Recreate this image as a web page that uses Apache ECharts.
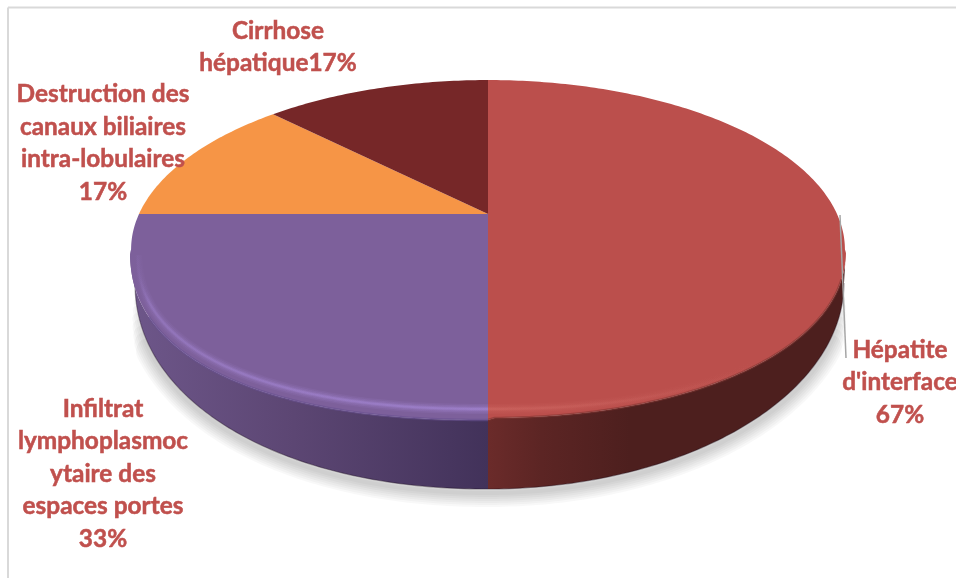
<!DOCTYPE html>
<html>
<head>
<meta charset="utf-8">
<style>html,body{margin:0;padding:0;background:#fff;overflow:hidden}#c{width:956px;height:578px}</style>
<script src="https://cdn.jsdelivr.net/npm/echarts@6/dist/echarts.min.js"></script>
</head>
<body>
<div id="c"></div>
<script>
// Data
const categories = ["Hépatite d'interface", "Infiltrat lymphoplasmocytaire des espaces portes", "Destruction des canaux biliaires intra-lobulaires", "Cirrhose hépatique"];
const values = [4, 2, 1, 1];
const labelTexts = ["Hépatite\nd'interface\n67%", "Infiltrat\nlymphoplasmoc\nytaire des\nespaces portes\n33%", "Destruction des\ncanaux biliaires\nintra-lobulaires\n17%", "Cirrhose\nhépatique17%"];

// Styling
const topColors = ['#BB4F4C', '#7D609B', '#F69546', '#762728'];
const labelAnchors = [[900, 382.5], [103, 474], [103, 143], [278, 47]];
const wallStops = [
  {x: 488, x2: 844, stops: [[0, '#6b2b2a'], [0.15, '#5c2524'], [0.4, '#4d1f1e'], [1, '#4d1f1e']]},
  {x: 135, x2: 488, stops: [[0, '#6d5689'], [0.45, '#5c4673'], [1, '#42325a']]},
  null, null
];
// soft layers of the bevel highlight: [line width, alpha factor]
const rimLayers = [[10, 0.12], [7, 0.18], [4, 0.28], [2, 0.4]];
const rimStops = [
  {x: 488, x2: 760, rgb: '208,105,100', stops: [[0, 0.9], [0.6, 0.35], [1, 0]]},
  {x: 135, x2: 488, rgb: '168,138,218', stops: [[0, 0], [0.04, 0.55], [0.35, 0.8], [1, 1]]},
  null, null
];
// soft ground shadow: stacked translucent strokes [line width, trim]
const shadowLayers = [[28, 0.30], [24, 0.26], [20, 0.22], [16, 0.18], [12, 0.14], [8, 0.10], [4, 0.06]];

// Geometry of the tilted disc
const CX = 488, CY = 214, R = 349, S = 162, K = 0.2094;
const TV = Math.acos(-K);            // angle from 12 o'clock where the wall appears
const total = values.reduce((a, b) => a + b, 0);

function phiOf(t) {                  // front arc angle -> 0 (right) .. PI (left)
  return (t - TV) / (2 * Math.PI - 2 * TV) * Math.PI;
}
function superPt(phi, a, b, y0, p) {
  const c = Math.cos(phi), s = Math.max(0, Math.sin(phi));
  return [CX + a * Math.sign(c) * Math.pow(Math.abs(c), 2 / p), y0 + b * Math.pow(s, 2 / p)];
}
function edgeFront(phi) {            // top of the wall
  return phi < Math.PI / 2 ? superPt(phi, 358, 168, 250, 2.1) : superPt(phi, 358, 170, 250, 2.3);
}
function topEdge(t) {                // outline of the upper face at clock angle t
  if (t > TV && t < 2 * Math.PI - TV) return edgeFront(phiOf(t));
  const u = Math.sin(t), v = Math.cos(t), w = 1 + K * v;
  return [CX + R * u / w, CY - S * v / w];
}
function bottomEdge(phi) {
  return phi < Math.PI / 2 ? superPt(phi, 356, 206, 283, 2) : superPt(phi, 353, 206, 283, 2.1);
}
function rimLine(phi) { return superPt(phi, 351, 159, 250, 2.3); }
function samples(a, b, fn) {
  const n = Math.max(2, Math.ceil((b - a) / 0.015)), pts = [];
  for (let i = 0; i <= n; i++) pts.push(fn(a + (b - a) * i / n));
  return pts;
}
function grad(g) {
  return {type: 'linear', x: g.x, y: 0, x2: g.x2, y2: 0, global: true,
    colorStops: g.stops.map(s => ({offset: s[0], color: s[1]}))};
}
function rimGrad(g, f) {
  return {type: 'linear', x: g.x, y: 0, x2: g.x2, y2: 0, global: true,
    colorStops: g.stops.map(s => ({offset: s[0], color: 'rgba(' + g.rgb + ',' + (s[1] * f) + ')'}))};
}

function renderItem(params, api) {
  const i = params.dataIndex;
  let before = 0;
  for (let j = 0; j < i; j++) before += values[j];
  const t0 = before / total * 2 * Math.PI, t1 = (before + api.value(0)) / total * 2 * Math.PI;
  const kids = [];

  if (i === 0) {
    shadowLayers.forEach(l => {
      const pts = samples(l[1], Math.PI - l[1], p => { const q = bottomEdge(p); return [q[0], q[1] + 4]; });
      kids.push({type: 'polyline', shape: {points: pts}, silent: true,
        style: {fill: null, stroke: 'rgba(0,0,0,0.026)', lineWidth: l[0], lineCap: 'round'}});
    });
  }

  // wall
  const a = Math.max(t0, TV), b = Math.min(t1, 2 * Math.PI - TV);
  if (b > a) {
    const upper = samples(phiOf(a), phiOf(b), edgeFront);
    const lower = samples(phiOf(a), phiOf(b), bottomEdge);
    kids.push({type: 'polygon', shape: {points: upper.concat(lower.reverse())},
      style: {fill: grad(wallStops[i])}});
    kids.push({type: 'polyline', shape: {points: samples(phiOf(a), phiOf(b), bottomEdge)},
      style: {fill: null, stroke: 'rgba(25,12,25,0.35)', lineWidth: 1.2}});
  }

  // upper face
  const face = [[CX, CY]].concat(samples(t0, t1, topEdge));
  kids.push({type: 'polygon', shape: {points: face}, style: {fill: topColors[i]}});

  // bevel
  if (b > a) {
    const pa = Math.max(phiOf(a), 0.16), pb = Math.min(phiOf(b), Math.PI - 0.35);
    kids.push({type: 'polyline', shape: {points: samples(pa, pb, edgeFront)},
      style: {fill: null, stroke: i === 0 ? 'rgba(125,52,50,0.55)' : 'rgba(105,82,145,0.6)', lineWidth: 2.5}});
    const qa = Math.max(phiOf(a), 0.02), qb = Math.min(phiOf(b), Math.PI - 0.02);
    rimLayers.forEach(l => {
      kids.push({type: 'polyline', shape: {points: samples(qa, qb, rimLine)},
        style: {fill: null, stroke: rimGrad(rimStops[i], l[1]), lineWidth: l[0]}});
    });
  }

  if (i === 0) {  // leader line
    kids.push({type: 'line', shape: {x1: 840, y1: 215, x2: 846, y2: 358},
      style: {stroke: '#a6a6a6', lineWidth: 1.5}});
  }

  kids.push({type: 'text', x: labelAnchors[i][0], y: labelAnchors[i][1], z2: 10,
    style: {text: labelTexts[i], fill: '#C0504D', font: 'bold 24.4px Lato', lineHeight: 32.6,
      stroke: '#C0504D', lineWidth: 0.5,
      align: 'center', verticalAlign: 'middle'}});
  return {type: 'group', children: kids};
}

const chart = echarts.init(document.getElementById('c'), null, {renderer: 'canvas'});
chart.setOption({
  animation: false,
  backgroundColor: '#ffffff',
  graphic: [
    {type: 'line', shape: {x1: 8, y1: 7.5, x2: 956, y2: 7.5}, style: {stroke: '#d9d9d9', lineWidth: 2}},
    {type: 'line', shape: {x1: 8, y1: 7.5, x2: 8, y2: 578}, style: {stroke: '#d9d9d9', lineWidth: 2}}
  ],
  series: [{
    type: 'custom',
    coordinateSystem: 'none',
    silent: true,
    clip: false,
    renderItem: renderItem,
    data: values.map((v, i) => ({name: categories[i], value: [v]}))
  }]
});
</script>
</body>
</html>
